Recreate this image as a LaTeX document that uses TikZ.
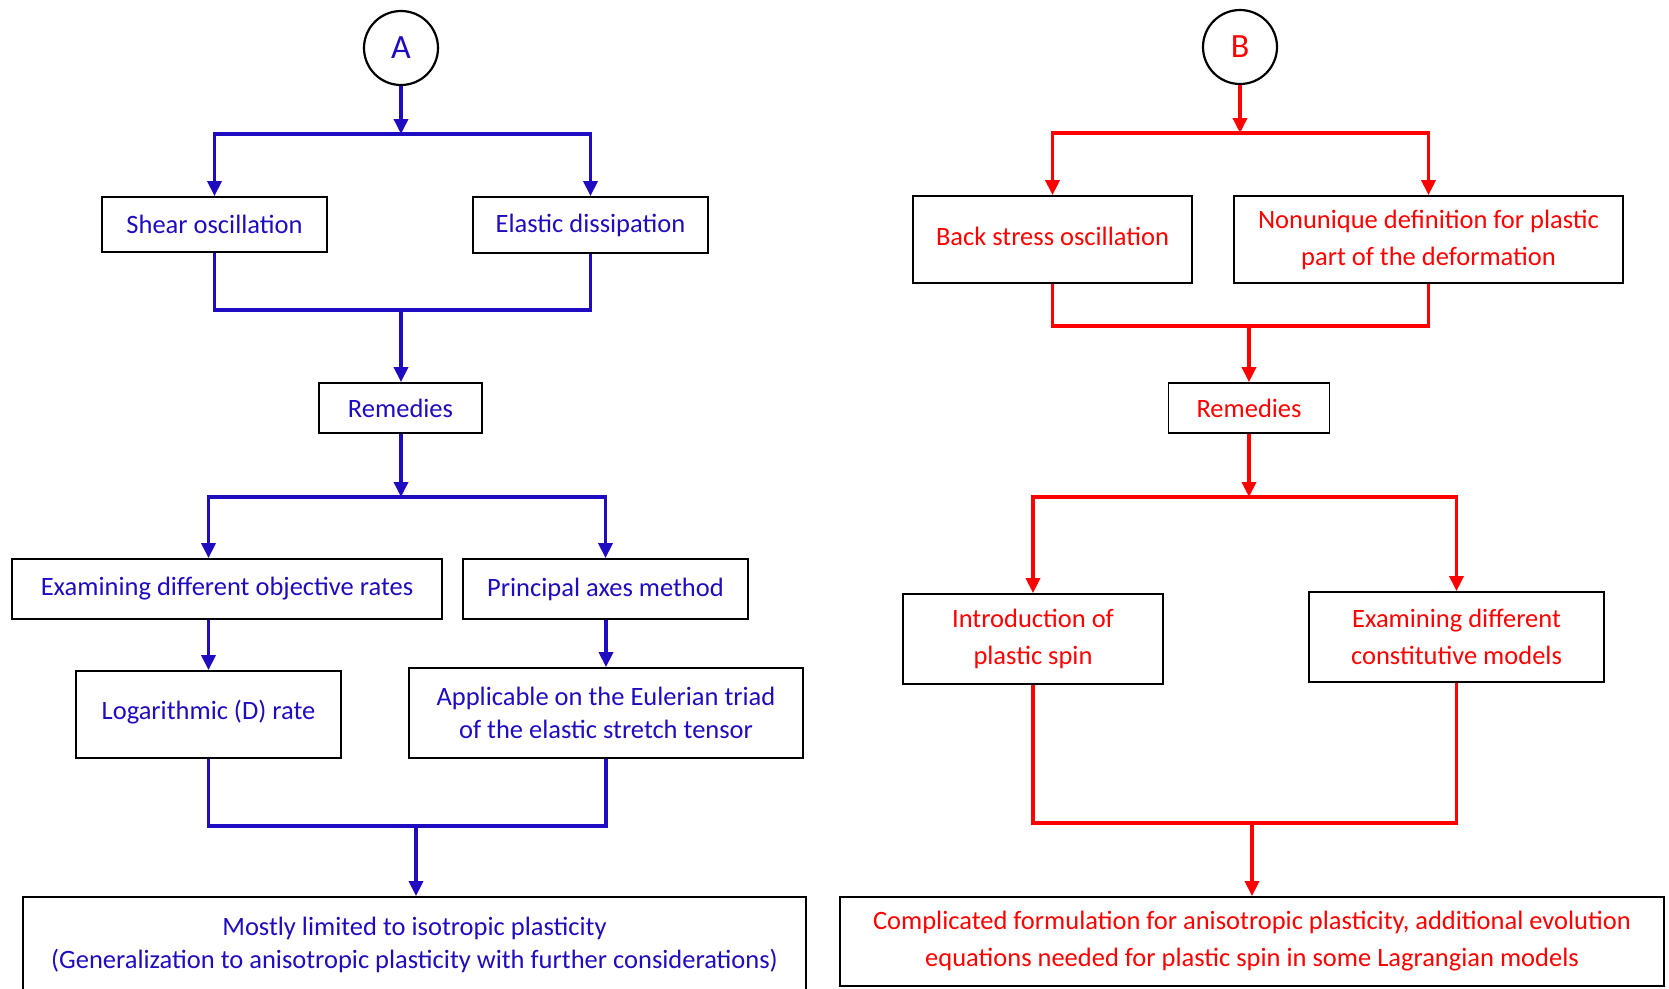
\documentclass[tikz,border=0pt]{standalone}
\usepackage{fontspec}
\setmainfont{Carlito}
\usetikzlibrary{arrows.meta}
\definecolor{darkblue}{RGB}{32,12,192}
\tikzset{
  >={Triangle[width=14pt,length=15pt]},
}
\tikzstyle{box}=[draw=black,line width=1.8pt,align=center,inner sep=0pt,font=\fontsize{26.5}{33}\selectfont]
\tikzstyle{bluebox}=[box,text=darkblue]
\tikzstyle{redbox}=[box,text=red,font=\fontsize{26.5}{37}\selectfont]
\tikzstyle{start}=[circle,draw=black,line width=2.2pt,minimum size=74pt,inner sep=0pt,font=\fontsize{34}{34}\selectfont]
\tikzstyle{bluelink}=[line width=3.5pt,darkblue]
\tikzstyle{redlink}=[line width=3.5pt,red]

\begin{document}
\begin{tikzpicture}[x=1pt,y=-1pt]
    \useasboundingbox (0,0) rectangle (1669,988);
    % left chart
    \node[start,text=darkblue] (A) at (401,48) {A};
    \node[bluebox,minimum width=225,minimum height=55] (shear) at (214.5,224.5) {Shear oscillation};
    \node[bluebox,minimum width=235,minimum height=56] (elastic) at (590.5,225) {Elastic dissipation};
    \node[bluebox,minimum width=163,minimum height=50] (remA) at (400.5,408) {Remedies};
    \node[bluebox,minimum width=430,minimum height=60] (objrates) at (227,589) {Examining different objective rates};
    \node[bluebox,minimum width=285,minimum height=60] (principal) at (605.5,589) {Principal axes method};
    \node[bluebox,minimum width=265,minimum height=87] (lograte) at (208.5,714.5) {\raisebox{10pt}{Logarithmic (D) rate}};
    \node[bluebox,minimum width=394,minimum height=90] (eulerian) at (606,713) {Applicable on the Eulerian triad\\of the elastic stretch tensor};
    \node[bluebox,minimum width=783,minimum height=95] (isotropic) at (414.5,944.5) {Mostly limited to isotropic plasticity\\(Generalization to anisotropic plasticity with further considerations)};
    \coordinate (a1) at (401,134);
    \coordinate (a2) at (401,310);
    \coordinate (a3) at (401,497);
    \coordinate (a4) at (416,826);
    \draw[bluelink,->] (A) -- (a1);
    \draw[bluelink,->] (a1) -| (shear.north);
    \draw[bluelink,->] (a1) -| (elastic.north);
    \draw[bluelink] (shear.south) |- (a2) -| (elastic.south);
    \draw[bluelink,->] (a2) -- (a2 |- remA.north);
    \draw[bluelink,->] (a3 |- remA.south) -- (a3);
    \draw[bluelink,->] (a3) -| (lograte.north |- objrates.north);
    \draw[bluelink,->] (a3) -| (principal.north);
    \draw[bluelink,->] (lograte.north |- objrates.south) -- (lograte.north);
    \draw[bluelink,->] (principal.south -| eulerian.north) -- (eulerian.north);
    \draw[bluelink] (lograte.south) |- (a4) -| (eulerian.south);
    \draw[bluelink,->] (a4) -- (a4 |- isotropic.north);
    % right chart
    \node[start,text=red] (B) at (1240,47) {B};
    \node[redbox,minimum width=279,minimum height=87] (backstress) at (1052.5,239.5) {\raisebox{7pt}{Back stress oscillation}};
    \node[redbox,minimum width=389,minimum height=87] (nonunique) at (1428.5,239.5) {Nonunique definition for plastic\\part of the deformation};
    \node[redbox,minimum width=161,minimum height=50] (remB) at (1249,408) {Remedies};
    \node[redbox,minimum width=260,minimum height=90] (spin) at (1033,639) {Introduction of\\plastic spin};
    \node[redbox,minimum width=295,minimum height=90] (models) at (1456.5,637) {Examining different\\constitutive models};
    \node[redbox,minimum width=824,minimum height=89] (complicated) at (1252,941.5) {Complicated formulation for anisotropic plasticity, additional evolution\\equations needed for plastic spin in some Lagrangian models};
    \coordinate (b1) at (1240,133);
    \coordinate (b2) at (1249,326);
    \coordinate (b3) at (1249,497);
    \coordinate (b4) at (1252,823);
    \draw[redlink,->] (B) -- (b1);
    \draw[redlink,->] (b1) -| (backstress.north);
    \draw[redlink,->] (b1) -| (nonunique.north);
    \draw[redlink] (backstress.south) |- (b2) -| (nonunique.south);
    \draw[redlink,->] (b2) -- (remB.north);
    \draw[redlink,->] (remB.south) -- (b3);
    \draw[redlink,->] (b3) -| (spin.north);
    \draw[redlink,->] (b3) -| (models.north);
    \draw[redlink] (spin.south) |- (b4) -| (models.south);
    \draw[redlink,->] (b4) -- (complicated.north);
\end{tikzpicture}
\end{document}
